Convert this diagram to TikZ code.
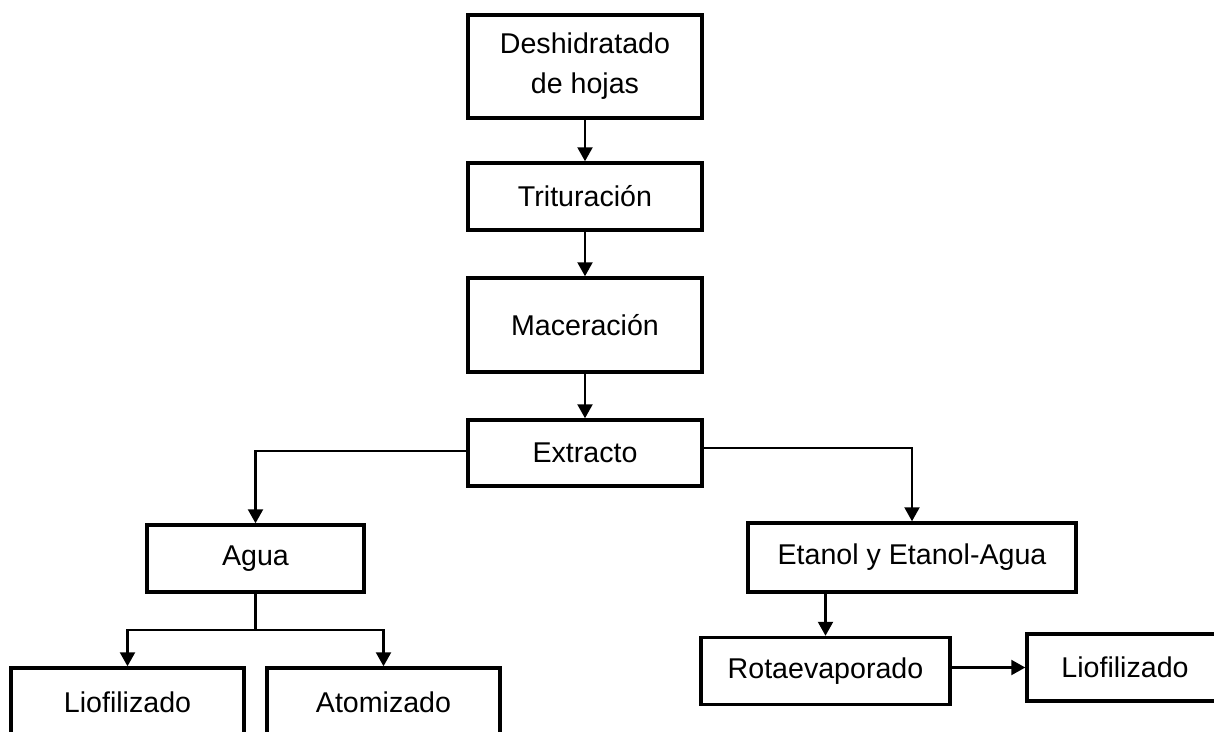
\documentclass[tikz,border=0pt]{standalone}
\usepackage{fontspec}
\setmainfont{Liberation Sans}
\usetikzlibrary{arrows.meta}
\begin{document}
\begin{tikzpicture}[x=1pt,y=-1pt,
  box/.style={draw,line width=3.5pt,inner sep=0pt,align=center,
    font=\fontsize{28.6}{40}\selectfont},
  conn/.style={line width=2.3pt},
  arr/.style={conn,-{Triangle[length=14pt,width=15pt]}}]
\useasboundingbox[fill=white] (0,0) rectangle (1214,731);
\clip (0,0) rectangle (1214,731);
\node[box,minimum width=234pt,minimum height=103pt] (d1) at (585,66.5) {Deshidratado\\de hojas};
\node[box,minimum width=234pt,minimum height=67pt] (d2) at (585,196.5) {Trituración};
\node[box,minimum width=234pt,minimum height=94pt] (d3) at (585,325) {Maceración};
\node[box,minimum width=234pt,minimum height=66pt] (d4) at (585,453) {Extracto};
\node[box,minimum width=217pt,minimum height=67pt] (agua) at (255.5,558.5) {Agua};
\node[box,minimum width=233pt,minimum height=80pt] (lio1) at (127.5,708) {\raisebox{12pt}{Liofilizado}};
\node[box,minimum width=233pt,minimum height=80pt] (ato) at (383.5,708) {\raisebox{12pt}{Atomizado}};
\node[box,minimum width=328pt,minimum height=69pt] (etanol) at (912,557.5) {Etanol y Etanol-Agua};
\node[box,minimum width=249pt,minimum height=67pt] (rota) at (825.5,671) {Rotaevaporado};
\node[box,minimum width=196pt,minimum height=67pt] (lio2) at (1125,667.5) {Liofilizado};
\coordinate (split) at (255.5,630);
\draw[arr] (d1) -- (d2);
\draw[arr] (d2) -- (d3);
\draw[arr] (d3) -- (d4);
\draw[arr] ([yshift=2pt]d4.west) -| (agua.north);
\draw[arr] ([yshift=5pt]d4.east) -| (etanol.north);
\draw[conn] (agua.south) -- (split);
\draw[arr] (split) -| (lio1.north);
\draw[arr] (split) -| (ato.north);
\draw[arr] (rota.north |- etanol.south) -- (rota.north);
\draw[arr] (rota.east |- lio2.west) -- (lio2.west);
\end{tikzpicture}
\end{document}
